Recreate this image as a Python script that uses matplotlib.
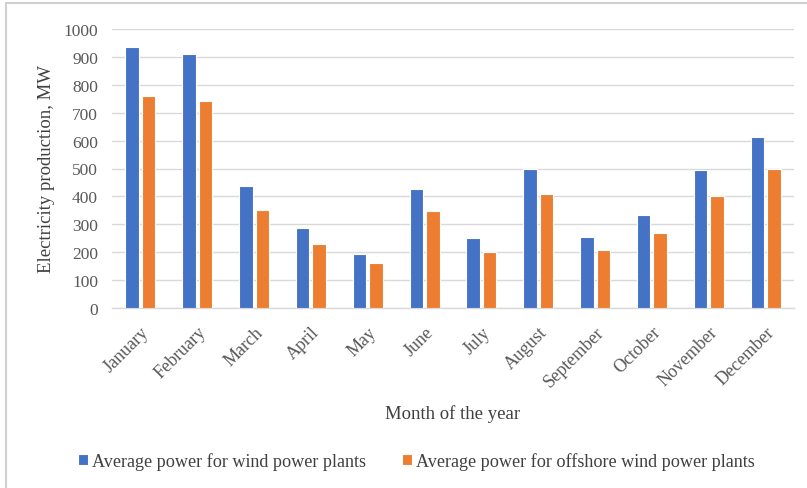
import matplotlib
matplotlib.use("Agg")
import matplotlib.pyplot as plt
from matplotlib.patches import Rectangle
import numpy as np

months = ["January", "February", "March", "April", "May", "June", "July",
          "August", "September", "October", "November", "December"]
wind = [934, 912, 438, 286, 195, 426, 251, 499, 256, 335, 493, 614]
offshore = [759, 741, 353, 231, 160, 347, 202, 407, 208, 268, 401, 499]
series_names = ["Average power for wind power plants",
                "Average power for offshore wind power plants"]
yticks = [0, 100, 200, 300, 400, 500, 600, 700, 800, 900, 1000]

BLUE = "#4472C4"
ORANGE = "#ED7D31"
TEXT = "#595959"
GRID = "#D9D9D9"

plt.rcParams["font.family"] = ["Liberation Serif", "DejaVu Serif"]

fig = plt.figure(figsize=(8.07, 4.89), dpi=100)
ax = fig.add_axes([112 / 807, 1 - 309 / 489, (794 - 112) / 807, (309 - 30) / 489])

x = np.arange(len(months))
w = 0.24
off = 0.145
ax.bar(x - off, wind, width=w, color=BLUE, edgecolor="white", linewidth=0.8,
       label=series_names[0], zorder=3)
ax.bar(x + off, offshore, width=w, color=ORANGE, edgecolor="white", linewidth=0.8,
       label=series_names[1], zorder=3)

ax.set_xlim(-0.5, len(months) - 0.5)
ax.set_ylim(0, 1000)
ax.set_yticks(yticks)
ax.set_yticklabels([str(v) for v in yticks])
ax.yaxis.grid(True, color=GRID, linewidth=1.0, zorder=0)
ax.set_axisbelow(True)
for s in ["top", "right", "left"]:
    ax.spines[s].set_visible(False)
ax.spines["bottom"].set_color(GRID)
ax.spines["bottom"].set_linewidth(1.0)
ax.tick_params(axis="both", length=0, colors=TEXT, labelsize=12.5)
ax.tick_params(axis="y", pad=10)

ax.set_xticks(x)
ax.set_xticklabels(months, rotation=45, ha="right", va="top",
                   rotation_mode="anchor", fontsize=13)
ax.tick_params(axis="x", pad=11)

ax.set_ylabel("Electricity production, MW", fontsize=13.5, color="#404040", labelpad=6)
ax.set_xlabel("Month of the year", fontsize=13.5, color="#404040", labelpad=10)

leg = fig.legend(loc="center left", bbox_to_anchor=(62 / 807, 1 - 462 / 489), ncol=2,
                 frameon=False, fontsize=13.1, handlelength=0.55, handleheight=0.55,
                 handletextpad=0.2, columnspacing=2.0)
for t in leg.get_texts():
    t.set_color("#404040")

# chart frame
fig.patches.append(Rectangle((6 / 807, -0.1), 1.2, 1 - 4 / 489 + 0.1,
                             transform=fig.transFigure, fill=False,
                             edgecolor="#D0D0D0", linewidth=1.5))

fig.savefig("out.png", dpi=100, facecolor="white")
